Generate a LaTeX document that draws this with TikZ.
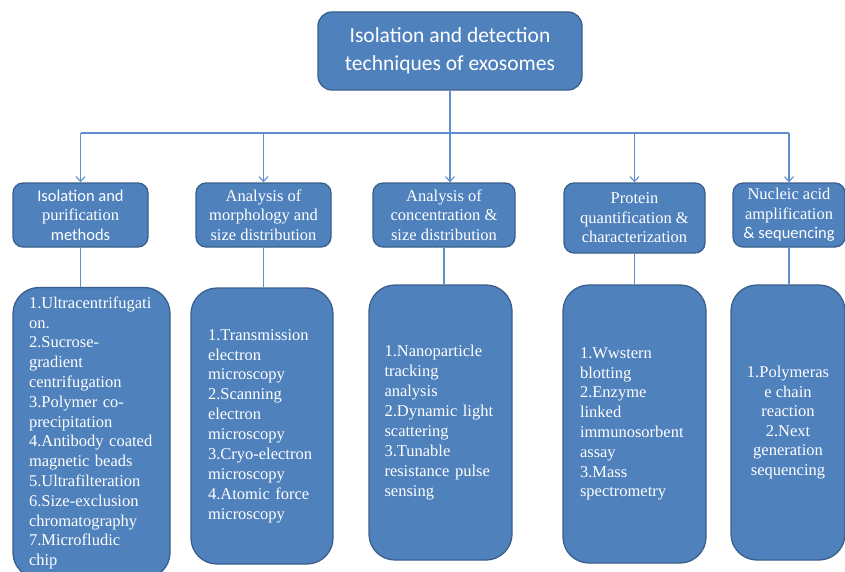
\documentclass[tikz,border=0pt]{standalone}
\usepackage{fontspec}
\setmainfont{Liberation Serif}
\newfontfamily\carlito{Carlito}
\usetikzlibrary{arrows.meta}
\definecolor{boxfill}{HTML}{4F81BD}
\definecolor{boxline}{HTML}{3A5F8C}
\definecolor{connc}{HTML}{5F8ECC}
\tikzset{
  box/.style={draw=boxline, line width=1.3pt, fill=boxfill, text=white, inner sep=0pt},
  topbox/.style={box, rounded corners=14pt, minimum width=264pt, minimum height=78pt,
    align=center, font={\carlito\fontsize{21.5}{28}\selectfont}},
  headbox/.style={box, rounded corners=10pt, align=center,
    font={\fontsize{16.5}{19.5}\selectfont}},
  contbox/.style={box, rounded corners=26pt, font={\fontsize{16.5}{20}\selectfont}},
  conn/.style={draw=connc, line width=1.1pt},
  arr/.style={conn, -{Straight Barb[length=5pt,width=9pt,line width=1.1pt]}}
}
\begin{document}
\begin{tikzpicture}[x=1pt,y=-1pt]
\clip (0,0) rectangle (845,572);
% top
\node[topbox] (top) at (450,51) {Isolation and detection\\techniques of exosomes};
% headers
\node[headbox, minimum width=135pt, minimum height=64pt] (h1) at (80.5,215)
  {{\carlito Isolation and}\\purification\\{\carlito methods}};
\node[headbox, minimum width=135pt, minimum height=64pt] (h2) at (263.5,215)
  {Analysis of\\morphology and\\size distribution};
\node[headbox, minimum width=142pt, minimum height=64pt] (h3) at (444,215)
  {Analysis of\\concentration \&\\size distribution};
\node[headbox, minimum width=141pt, minimum height=70pt] (h4) at (634.5,218)
  {Protein\\quantification \&\\characterization};
\node[headbox, minimum width=112pt, minimum height=64pt] (h5) at (789,215)
  {Nucleic acid\\amplification\\{\carlito \& sequencing}};
% contents
\node[contbox, minimum width=157pt, minimum height=291pt, text width=125pt, align=left,
  font={\fontsize{16.5}{19.8}\selectfont}] (c1) at (91.5,433)
  {1.Ultracentrifugati\\on.\\2.Sucrose-\\gradient\\centrifugation\\3.Polymer co-\\precipitation\\4.Antibody coated\\magnetic beads\\5.Ultrafilteration\\6.Size-exclusion\\chromatography\\7.Microfludic\\chip};
\node[contbox, minimum width=142pt, minimum height=276pt, text width=108pt, align=left,
  font={\fontsize{16.5}{19.9}\selectfont}] (c2) at (262,426)
  {1.Transmission\\electron\\microscopy\\2.Scanning\\electron\\microscopy\\3.Cryo-electron\\microscopy\\4.Atomic force\\microscopy};
\node[contbox, minimum width=143pt, minimum height=275pt, text width=112pt, align=left,
  font={\fontsize{16.5}{19.9}\selectfont}] (c3) at (440.5,422.5)
  {1.Nanoparticle\\tracking\\analysis\\\makebox[112pt][s]{2.Dynamic light}\\scattering\\3.Tunable\\\makebox[112pt][s]{resistance pulse}\\sensing};
\node[contbox, minimum width=143pt, minimum height=278pt, text width=109pt, align=left,
  font={\fontsize{16.5}{19.8}\selectfont}] (c4) at (634.5,424)
  {1.Wwstern\\blotting\\2.Enzyme\\linked\\immunosorbent\\assay\\3.Mass\\spectrometry};
\node[contbox, minimum width=114pt, minimum height=275pt, align=center,
  font={\fontsize{16.5}{19.6}\selectfont}] (c5) at (788,422.5)
  {1.Polymeras\\e chain\\reaction\\2.Next\\generation\\sequencing};
% connectors
\coordinate (bus) at (0,133);
\draw[conn] (top.south) -- (top.south |- bus);
\draw[conn] (h1.north |- bus) -- (h5.north |- bus);
\draw[arr] (h1.north |- bus) -- (h1.north);
\draw[arr] (h2.north |- bus) -- (h2.north);
\draw[arr] (top.south |- bus) -- (top.south |- h3.north);
\draw[arr] (h4.north |- bus) -- (h4.north);
\draw[arr] (h5.north |- bus) -- (h5.north);
\draw[conn] (h1.south) -- (c1.north -| h1.south);
\draw[conn] (h2.south) -- (c2.north -| h2.south);
\draw[conn] (h3.south) -- (c3.north -| h3.south);
\draw[conn] (h4.south) -- (c4.north -| h4.south);
\draw[conn] (h5.south) -- (c5.north -| h5.south);
\end{tikzpicture}
\end{document}
